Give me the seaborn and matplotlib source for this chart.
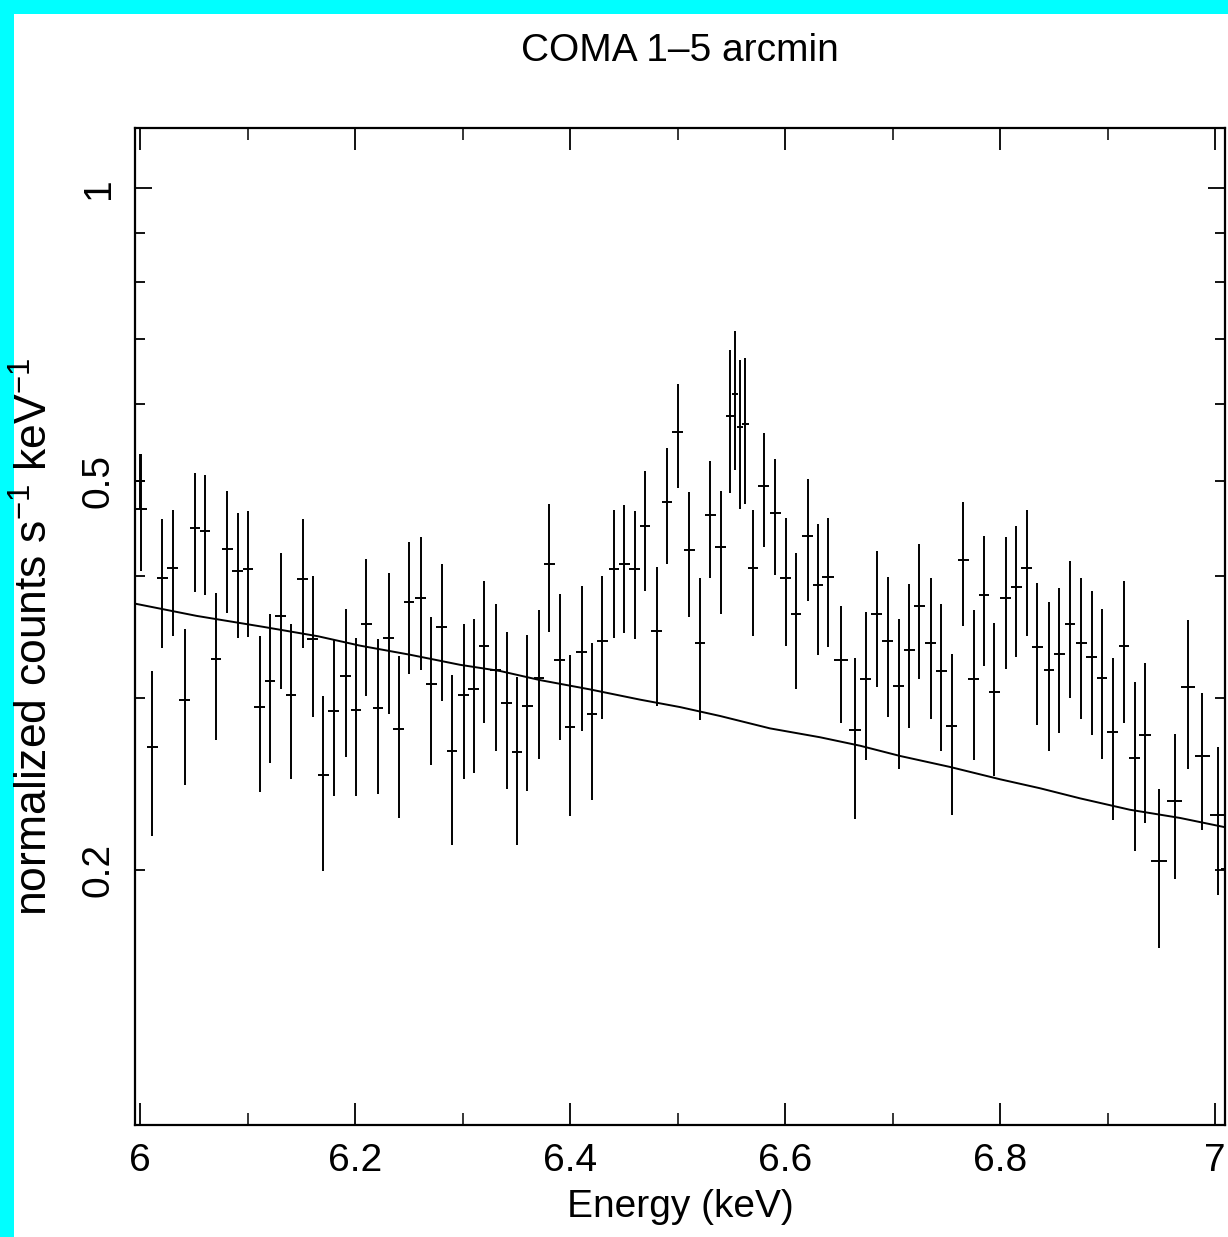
import os
import numpy as np
import pandas as pd
import matplotlib
matplotlib.use("Agg")
import matplotlib.pyplot as plt
import seaborn as sns
from matplotlib import font_manager
from matplotlib.ticker import FixedLocator, FixedFormatter
from matplotlib.patches import Rectangle

# ---------------- data ----------------
energy = [6.000, 6.001, 6.0115, 6.0207, 6.0304, 6.0415, 6.0512, 6.0605, 6.0707, 6.0812,
          6.0909, 6.1005, 6.1113, 6.1209, 6.1309, 6.1405, 6.1513, 6.1607, 6.1705, 6.1802,
          6.1913, 6.2009, 6.2105, 6.2214, 6.2313, 6.2407, 6.2502, 6.2611, 6.2709, 6.2806,
          6.2902, 6.3011, 6.3104, 6.3200, 6.3309, 6.3411, 6.3507, 6.3603, 6.3712, 6.3807,
          6.3904, 6.4000, 6.4109, 6.4205, 6.4300, 6.4409, 6.4505, 6.4602, 6.4698, 6.4807,
          6.4902, 6.5002, 6.5110, 6.5209, 6.5305, 6.5402, 6.5486, 6.5535, 6.5581, 6.5631,
          6.5702, 6.5802, 6.5910, 6.6007, 6.6102, 6.6211, 6.6307, 6.6403, 6.6524, 6.6654,
          6.6751, 6.6853, 6.6955, 6.7058, 6.7156, 6.7249, 6.7355, 6.7453, 6.7551, 6.7658,
          6.7755, 6.7851, 6.7947, 6.8053, 6.8152, 6.8248, 6.8347, 6.8456, 6.8552, 6.8651,
          6.8756, 6.8853, 6.8949, 6.9048, 6.9153, 6.9253, 6.9349, 6.9479, 6.9625, 6.9746,
          6.9880, 7.0025, 7.0130]

energy_halfwidth = [0.005, 0.005, 0.005, 0.005, 0.005, 0.005, 0.005, 0.005, 0.005, 0.005,
                    0.005, 0.005, 0.005, 0.005, 0.005, 0.005, 0.005, 0.005, 0.005, 0.005,
                    0.005, 0.005, 0.005, 0.005, 0.005, 0.005, 0.005, 0.005, 0.005, 0.005,
                    0.005, 0.005, 0.005, 0.005, 0.005, 0.005, 0.005, 0.005, 0.005, 0.005,
                    0.005, 0.005, 0.005, 0.005, 0.005, 0.005, 0.005, 0.005, 0.005, 0.005,
                    0.005, 0.005, 0.005, 0.005, 0.005, 0.005, 0.0035, 0.0025, 0.0025, 0.003,
                    0.0045, 0.005, 0.005, 0.005, 0.005, 0.005, 0.005, 0.0055, 0.0065, 0.0055,
                    0.005, 0.005, 0.005, 0.005, 0.005, 0.005, 0.005, 0.005, 0.005, 0.005,
                    0.005, 0.005, 0.005, 0.005, 0.005, 0.005, 0.005, 0.005, 0.005, 0.005,
                    0.005, 0.005, 0.005, 0.005, 0.005, 0.005, 0.006, 0.0075, 0.007, 0.0065,
                    0.007, 0.007, 0.007]

flux = [0.500, 0.469, 0.2674, 0.3978, 0.4078, 0.2981, 0.4482, 0.4448, 0.3289, 0.4267,
        0.4050, 0.4062, 0.2938, 0.3119, 0.3643, 0.3019, 0.3974, 0.3445, 0.2500, 0.2907,
        0.3155, 0.2916, 0.3573, 0.2926, 0.3454, 0.2790, 0.3758, 0.3797, 0.3100, 0.3550,
        0.2648, 0.3022, 0.3066, 0.3393, 0.3202, 0.2961, 0.2638, 0.2941, 0.3141, 0.4110,
        0.3280, 0.2802, 0.3341, 0.2885, 0.3428, 0.4066, 0.4110, 0.4066, 0.4500, 0.3510,
        0.4764, 0.5622, 0.4251, 0.3418, 0.4619, 0.4284, 0.5832, 0.6149, 0.5683, 0.5726,
        0.4078, 0.4942, 0.4636, 0.3985, 0.3657, 0.4397, 0.3913, 0.3990, 0.3280, 0.2779,
        0.3134, 0.3657, 0.3428, 0.3087, 0.3357, 0.3725, 0.3415, 0.3196, 0.2810, 0.4154,
        0.3134, 0.3823, 0.3040, 0.3797, 0.3898, 0.4078, 0.3381, 0.3205, 0.3327, 0.3573,
        0.3418, 0.3302, 0.3144, 0.2768, 0.3393, 0.2605, 0.2747, 0.2039, 0.2352, 0.3075,
        0.2615, 0.2276, 0.2002]

flux_low = [0.468, 0.405, 0.2163, 0.3376, 0.3475, 0.2440, 0.3850, 0.3820, 0.2718, 0.3664,
            0.3452, 0.3466, 0.2400, 0.2572, 0.3060, 0.2475, 0.3376, 0.2869, 0.1993, 0.2377,
            0.2610, 0.2381, 0.3016, 0.2393, 0.2888, 0.2259, 0.3177, 0.3202, 0.2560, 0.2978,
            0.2121, 0.2475, 0.2511, 0.2825, 0.2648, 0.2421, 0.2121, 0.2409, 0.2598, 0.3503,
            0.2718, 0.2270, 0.2771, 0.2359, 0.2855, 0.3458, 0.3495, 0.3445, 0.3865, 0.2944,
            0.4114, 0.4918, 0.3633, 0.2847, 0.3978, 0.3657, 0.4861, 0.5140, 0.4690, 0.4745,
            0.3469, 0.4288, 0.4009, 0.3387, 0.3066, 0.3773, 0.3321, 0.3381, 0.2825, 0.2254,
            0.2591, 0.3081, 0.2869, 0.2535, 0.2793, 0.3134, 0.2855, 0.2643, 0.2276, 0.3553,
            0.2591, 0.3233, 0.2492, 0.3208, 0.3305, 0.3472, 0.2814, 0.2648, 0.2760, 0.2998,
            0.2855, 0.2745, 0.2598, 0.2248, 0.2828, 0.2091, 0.2230, 0.1660, 0.1955, 0.2535,
            0.2198, 0.1881, 0.1850]

flux_high = [0.533, 0.533, 0.3196, 0.4573, 0.4677, 0.3526, 0.5100, 0.5076, 0.3845, 0.4894,
             0.4645, 0.4664, 0.3475, 0.3657, 0.4221, 0.3567, 0.4573, 0.4001, 0.3010, 0.3441,
             0.3703, 0.3458, 0.4161, 0.3445, 0.4024, 0.3312, 0.4338, 0.4389, 0.3633, 0.4114,
             0.3164, 0.3570, 0.3611, 0.3951, 0.3747, 0.3503, 0.3149, 0.3479, 0.3693, 0.4736,
             0.3831, 0.3321, 0.3906, 0.3418, 0.3997, 0.4677, 0.4732, 0.4664, 0.5125, 0.4083,
             0.5416, 0.6292, 0.4875, 0.3981, 0.5251, 0.4894, 0.6824, 0.7128, 0.6668, 0.6693,
             0.4677, 0.5601, 0.5276, 0.4586, 0.4226, 0.5027, 0.4521, 0.4586, 0.3729, 0.3296,
             0.3675, 0.4238, 0.3990, 0.3615, 0.3921, 0.4309, 0.3981, 0.3743, 0.3327, 0.4768,
             0.3693, 0.4401, 0.3581, 0.4385, 0.4500, 0.4677, 0.3932, 0.3758, 0.3886, 0.4147,
             0.3981, 0.3861, 0.3703, 0.3296, 0.3951, 0.3112, 0.3257, 0.2416, 0.2752, 0.3605,
             0.3031, 0.2669, 0.2200]

model_energy = [5.9953, 6.0527, 6.1147, 6.1656, 6.2047, 6.2512, 6.2977, 6.3349, 6.3721,
                6.4186, 6.4651, 6.5023, 6.5395, 6.5860, 6.6326, 6.6698, 6.7070, 6.7535,
                6.8000, 6.8372, 6.8744, 6.9209, 6.9674, 7.0093]
model_flux = [0.3747, 0.3640, 0.3547, 0.3469, 0.3393, 0.3321, 0.3243, 0.3196, 0.3128,
              0.3060, 0.2987, 0.2935, 0.2874, 0.2791, 0.2733, 0.2679, 0.2615, 0.2548,
              0.2475, 0.2423, 0.2366, 0.2303, 0.2259, 0.2210]

x_major = [6.0, 6.2, 6.4, 6.6, 6.8, 7.0]
x_major_labels = ["6", "6.2", "6.4", "6.6", "6.8", "7"]
x_minor = [6.1, 6.3, 6.5, 6.7, 6.9]
y_major = [1.0]
y_major_labels = ["1"]
y_minor = [0.2, 0.3, 0.4, 0.5, 0.6, 0.7, 0.8, 0.9]
y_minor_labels = ["0.2", "", "", "0.5", "", "", "", ""]

title = "COMA 1\u20135 arcmin"
xlabel = "Energy (keV)"
ylabel = r"normalized counts s$^{-1}$ keV$^{-1}$"

# ---------------- styling ----------------
sns.set_theme(style="ticks")
plt.rcParams["font.family"] = ["Liberation Sans", "DejaVu Sans"]
plt.rcParams["mathtext.fontset"] = "custom"
plt.rcParams["mathtext.rm"] = "Liberation Sans"
plt.rcParams["mathtext.it"] = "Liberation Sans:italic"
plt.rcParams["mathtext.bf"] = "Liberation Sans:bold"

# horizontal texts look condensed in the reference: use a narrow face if present
narrow_path = None
for f in font_manager.fontManager.ttflist:
    if os.path.basename(f.fname).lower().startswith("liberationsansnarrow-regular"):
        narrow_path = f.fname
        break
if narrow_path:
    hfont = font_manager.FontProperties(fname=narrow_path, size=32)
else:
    hfont = font_manager.FontProperties(family=["Liberation Sans", "DejaVu Sans"], size=28)

W, H = 1228, 1237
fig = plt.figure(figsize=(W / 100, H / 100), dpi=100)
fig.patch.set_facecolor("#00FFFF")
fig.add_artist(Rectangle((14 / W, 0), 1 - 14 / W, 1 - 14 / H, transform=fig.transFigure,
                         facecolor="white", edgecolor="none", zorder=-10))

left, right, top, bottom = 135, 1225, 128, 1125
ax = fig.add_axes([left / W, 1 - bottom / H, (right - left) / W, (bottom - top) / H])
ax.set_facecolor("white")

df = pd.DataFrame({"energy": energy, "flux": flux, "lo": flux_low, "hi": flux_high,
                   "hw": energy_halfwidth})
yerr = np.vstack([df["flux"] - df["lo"], df["hi"] - df["flux"]])
ax.errorbar(df["energy"], df["flux"], xerr=df["hw"], yerr=yerr, fmt="none",
            ecolor="black", elinewidth=1.4, capsize=0)

mdf = pd.DataFrame({"energy": model_energy, "model": model_flux})
sns.lineplot(data=mdf, x="energy", y="model", ax=ax, color="black", lw=1.4,
             estimator=None, sort=False)

ax.set_yscale("log")
ax.set_xlim(5.9953, 7.0093)
ax.set_ylim(0.1094, 1.152)

ax.xaxis.set_major_locator(FixedLocator(x_major))
ax.xaxis.set_major_formatter(FixedFormatter(x_major_labels))
ax.xaxis.set_minor_locator(FixedLocator(x_minor))
ax.yaxis.set_major_locator(FixedLocator(y_major))
ax.yaxis.set_major_formatter(FixedFormatter(y_major_labels))
ax.yaxis.set_minor_locator(FixedLocator(y_minor))
ax.yaxis.set_minor_formatter(FixedFormatter(y_minor_labels))

ytick_fs = 28
ax.tick_params(axis="x", which="major", direction="in", length=15.5, width=1.3,
               top=True, bottom=True, pad=13, colors="black")
ax.tick_params(axis="x", which="minor", direction="in", length=8.3, width=1.3,
               top=True, bottom=True)
ax.tick_params(axis="y", which="major", direction="in", length=12.5, width=1.3,
               left=True, right=True, labelsize=ytick_fs, pad=13, colors="black")
ax.tick_params(axis="y", which="minor", direction="in", length=7, width=1.3,
               left=True, right=True, labelsize=ytick_fs, pad=13, colors="black")
for lab in ax.get_xticklabels():
    lab.set_fontproperties(hfont)
for lab in ax.get_yticklabels(which="both"):
    lab.set_rotation(90)
    lab.set_va("center")

for s in ax.spines.values():
    s.set_linewidth(1.6)
    s.set_color("black")

ax.set_title(title, fontproperties=hfont, pad=48, color="black")
ax.set_xlabel(xlabel, fontproperties=hfont, color="black")
ax.xaxis.set_label_coords(0.5, -0.064)
ax.set_ylabel(ylabel, fontsize=32, color="black")
ax.yaxis.set_label_coords(-0.072, 0.49)

fig.savefig("out.png", dpi=100, facecolor=fig.get_facecolor())
